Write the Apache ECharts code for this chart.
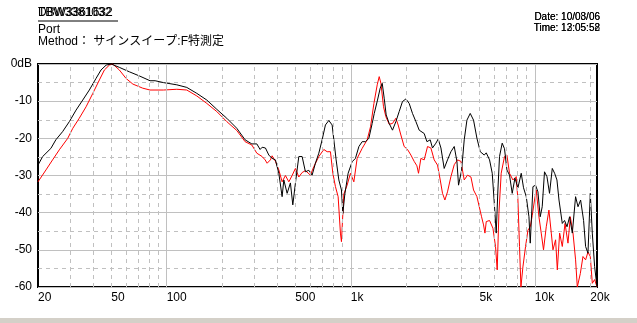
<!DOCTYPE html>
<html>
<head>
<meta charset="utf-8">
<script src="https://cdn.jsdelivr.net/npm/echarts@6/dist/echarts.min.js"></script>
<style>
html, body { margin: 0; padding: 0; background: #fff; }
#chart { width: 637px; height: 323px; }
</style>
</head>
<body>
<div id="chart"></div>
<script>
// black trace
var blackFreq = [20, 21.2, 23.5, 25, 27.2, 29.6, 32.2, 35, 38, 41.3, 44, 46.9, 49.9, 55.3, 62.7, 71, 81.2, 86.5, 96, 113.5,
	128.6, 145.8, 165.2, 187.2, 212.1, 240.4, 266.7, 290.1, 308.8, 321.8, 330, 343.9, 358.8, 373.9, 389.7, 406.6, 423.7, 432.8, 451.1, 470,
	484.3, 500.3, 522, 544.1, 567.1, 591.7, 616.6, 642.6, 670.5, 698.8, 728.3, 760, 792, 809.1, 832.7, 861.2, 889.8, 905.5, 928.3, 967.5,
	1017, 1060, 1107, 1153, 1202, 1254, 1307, 1341, 1397, 1445, 1482, 1519, 1557, 1617, 1685, 1758, 1832, 1909, 1993, 2076,
	2164, 2258, 2353, 2505, 2592, 2700, 2779, 2900, 2985, 3088, 3217, 3353, 3499, 3647, 3772, 3849, 3996, 4133, 4275, 4455,
	4643, 4845, 5050, 5309, 5444, 5673, 5867, 6038, 6167, 6297, 6425, 6645, 6840, 7049, 7282, 7532, 7791, 8089, 8431, 8677,
	8978, 9285, 9437, 9761, 10082, 10390, 10690, 10960, 11280, 11630, 12010, 12430, 12800, 13180, 13520, 14090, 14500, 14950, 15440, 15970,
	16640, 17150, 17720, 18390, 18860, 19430, 20000, 20510, 21110, 21750];
var blackDb = [-27.2, -24.9, -22.7, -20.4, -18.2, -15.5, -12.4, -9.7, -7.0, -3.9, -1.6, -0.3, 0, -0.9, -2.1, -3.2, -4.5, -4.5, -5.0, -5.6,
	-6.3, -7.9, -9.7, -12.2, -14.6, -17.3, -20.4, -21.5, -21.5, -23.0, -22.4, -22.6, -24.5, -25.4, -25.8, -29.4, -35.7, -31.2, -34.8, -32,
	-37.9, -32.1, -24.9, -24.9, -29.0, -28.6, -29.9, -26.7, -24.0, -20.4, -16.4, -15.2, -16.4, -20.4, -25.8, -31.2, -33.9, -40.2, -35, -29.4,
	-26.3, -25.4, -22.2, -20.9, -20.9, -20, -16, -13.3, -9.7, -6.5, -5.2, -9.2, -13.7, -16.0, -17.8, -15.5, -12.8, -10.1, -9.4, -10.6,
	-13.3, -15.5, -17.8, -18.7, -20.9, -20.4, -22.6, -21.3, -20.2, -22.6, -28.1, -25.8, -23.6, -22.2, -26.2, -32.6, -28.7, -20.4, -15.1, -13.3,
	-15.1, -20, -23.6, -24.5, -23.9, -25.8, -29.4, -38.4, -45.5, -33.9, -24.9, -21.3, -22.8, -28.5, -29.9, -34.8, -30.7, -33.3, -29.4, -33.3,
	-35.7, -41.1, -48.2, -33, -32.6, -34.4, -41.1, -38.4, -29.0, -30.3, -34.8, -28.1, -29.4, -31.2, -36.6, -42.9, -42.1, -43.8, -41.1, -45.5,
	-35.7, -38.4, -36.6, -42.1, -49.1, -50.9, -34.8, -45.5, -54.5, -60];

// red trace
var redFreq = [20, 22.1, 24, 26.1, 29, 30.9, 33.5, 36.5, 39.7, 43.1, 45.9, 48.8, 50.9, 55.3, 60.2, 65.5, 74.1, 81.2, 96, 113.5,
	128.6, 145.8, 165.2, 187.2, 212.1, 240.4, 266.7, 290.1, 308.8, 330, 342.6, 351.3, 366, 373.9, 389.7, 406.6, 423.7, 441.6, 460.7, 480.1,
	500.3, 522, 544.1, 567.1, 603.7, 629.9, 670.5, 713.8, 744, 775.4, 799, 825.5, 853.7, 878.6, 889.8, 916.9, 955.4, 995.8, 1039, 1083,
	1153, 1228, 1280, 1336, 1392, 1427, 1458, 1506, 1552, 1617, 1685, 1758, 1809, 1871, 1950, 2033, 2121, 2210, 2287, 2333,
	2404, 2505, 2612, 2724, 2839, 2959, 3061, 3150, 3245, 3353, 3499, 3647, 3801, 3966, 4133, 4307, 4494, 4643, 4845, 4987,
	5133, 5263, 5355, 5444, 5673, 5919, 6113, 6243, 6376, 6562, 6840, 7049, 7282, 7598, 7918, 8089, 8253, 8399, 8611, 8900,
	9170, 9437, 9676, 9957, 10170, 10520, 10830, 11140, 11530, 11920, 12280, 12540, 12960, 13240, 13630, 14090, 14580, 15130, 15580, 16110,
	16640, 17000, 17650, 18250, 18860, 19430, 20000, 20510, 21110, 21750];
var redDb = [-31.7, -28.5, -25.8, -23.1, -20, -17.3, -14.6, -11.5, -7.9, -4.3, -1.6, -0.3, 0, -1.6, -3.9, -5.4, -6.5, -7.0, -7.0, -6.8,
	-7.0, -8.6, -10.6, -12.8, -15.5, -17.9, -20.9, -21.8, -24.0, -24.9, -25.8, -26.7, -25.8, -24.7, -26.2, -28.5, -31.7, -30, -31.7, -30,
	-28.1, -30.4, -29.2, -28.7, -29.9, -27.6, -24.9, -23.0, -23.6, -23.6, -29.4, -33, -35.7, -45.5, -47.8, -35, -32.6, -29.4, -31.7, -25.4,
	-22.7, -20.4, -16.9, -10.6, -5.6, -3.4, -5.2, -11.5, -14.2, -16.2, -16, -14.6, -16.4, -19.1, -22.2, -23, -24.5, -26.2, -27.4, -29.4,
	-25.4, -25.8, -22.2, -22.6, -25.8, -27.2, -31.2, -34.8, -36.6, -34.4, -30.3, -27.1, -25.8, -26.2, -31.2, -29.9, -30.4, -33.9, -35.7, -38.4,
	-41.1, -43.3, -45.5, -42.4, -42.1, -44.2, -49.1, -55.4, -40.2, -29.4, -24.9, -24.5, -29.4, -31.2, -30.3, -36.6, -49.1, -60, -54.6, -49.1,
	-44.7, -43.8, -40.8, -36.6, -33.9, -41.1, -45.5, -50, -43.8, -39.3, -45.5, -50, -47.3, -55.4, -45.5, -49.1, -42.9, -48.2, -41.1, -45.5,
	-52.7, -60, -56.4, -51.8, -52.7, -50.6, -51.8, -59, -58, -60];

var xLabels = [20, 50, 100, 500, 1000, 5000, 10000, 20000];
var gridDashed = [30, 40, 50, 60, 70, 80, 90, 200, 300, 400, 500, 600, 700, 800, 900,
	2000, 3000, 4000, 5000, 6000, 7000, 8000, 9000, 20000];
var gridSolid = [100, 1000, 10000];

function zip(fs, vs) {
	return fs.map(function (f, i) { return [f, vs[i]]; });
}

var font = "'Liberation Sans', 'Noto Sans CJK JP', sans-serif";
var gridLines = gridDashed.map(function (f) {
	return { xAxis: f, lineStyle: { type: [4, 4] } };
}).concat(gridSolid.map(function (f) {
	return { xAxis: f, lineStyle: { type: 'solid' } };
}));

var chart = echarts.init(document.getElementById('chart'), null, { renderer: 'canvas' });
chart.setOption({
	animation: false,
	backgroundColor: '#fff',
	grid: { left: 38, top: 64, right: 40, bottom: 36, show: true, borderColor: '#000', borderWidth: 2, backgroundColor: 'transparent' },
	xAxis: {
		type: 'log', logBase: 10, min: 20, max: 21750,
		axisLine: { show: false },
		axisTick: { show: false },
		splitLine: { show: false },
		minorSplitLine: { show: false },
		axisLabel: {
			customValues: xLabels,
			align: 'left', margin: 5,
			fontFamily: font, fontSize: 12, color: '#000',
			formatter: function (v) { return v >= 1000 ? (v / 1000) + 'k' : String(v); }
		}
	},
	yAxis: {
		type: 'value', min: -60, max: 0, interval: 10,
		axisLine: { show: false },
		axisTick: { show: false },
		splitLine: { show: true, lineStyle: { color: '#c0c0c0', width: 1 } },
		minorTick: { show: false, splitNumber: 2 },
		minorSplitLine: { show: true, lineStyle: { color: '#c0c0c0', width: 1, type: [4, 4] } },
		axisLabel: {
			margin: 6, fontFamily: font, fontSize: 12, color: '#000',
			formatter: function (v) { return v === 0 ? '0dB' : String(v); }
		}
	},
	graphic: [
		{ type: 'text', left: 38, top: 7, style: { text: 'DBW3361632', font: '12px ' + font, fill: '#000' } },
		{ type: 'text', left: 38, top: 7, style: { text: 'TBW3381032', font: '12px ' + font, fill: '#000' } },
		{ type: 'line', shape: { x1: 38, y1: 21, x2: 118, y2: 21 }, style: { stroke: '#000', lineWidth: 1 } },
		{ type: 'text', left: 38, top: 24, style: { text: 'Port', font: '12px ' + font, fill: '#000' } },
		{ type: 'text', left: 38, top: 36, style: { text: 'Method： サインスイープ:F特測定', font: '12px ' + font, fill: '#000' } },
		{ type: 'text', right: 37, top: 12, style: { text: 'Date: 10/08/06', font: '10px ' + font, fill: '#000' } },
		{ type: 'text', right: 37, top: 12, style: { text: 'Date: 10/03/06', font: '10px ' + font, fill: '#000' } },
		{ type: 'text', right: 37, top: 23, style: { text: 'Time: 13:05:52', font: '10px ' + font, fill: '#000' } },
		{ type: 'text', right: 37, top: 23, style: { text: 'Time: 12:05:58', font: '10px ' + font, fill: '#000' } },
		{ type: 'rect', shape: { x: 0, y: 318, width: 637, height: 5 }, style: { fill: '#d4d0c8' } }
	],
	series: [
		{
			type: 'line', data: [], z: 1, silent: true,
			markLine: {
				silent: true, symbol: 'none', label: { show: false },
				lineStyle: { color: '#c0c0c0', width: 1 },
				data: gridLines
			}
		},
		{
			name: 'red', type: 'line', z: 3, data: zip(redFreq, redDb),
			showSymbol: false, clip: true,
			lineStyle: { color: '#ff0000', width: 1 }
		},
		{
			name: 'black', type: 'line', z: 4, data: zip(blackFreq, blackDb),
			showSymbol: false, clip: true,
			lineStyle: { color: '#000', width: 1 }
		}
	]
});
</script>
</body>
</html>
